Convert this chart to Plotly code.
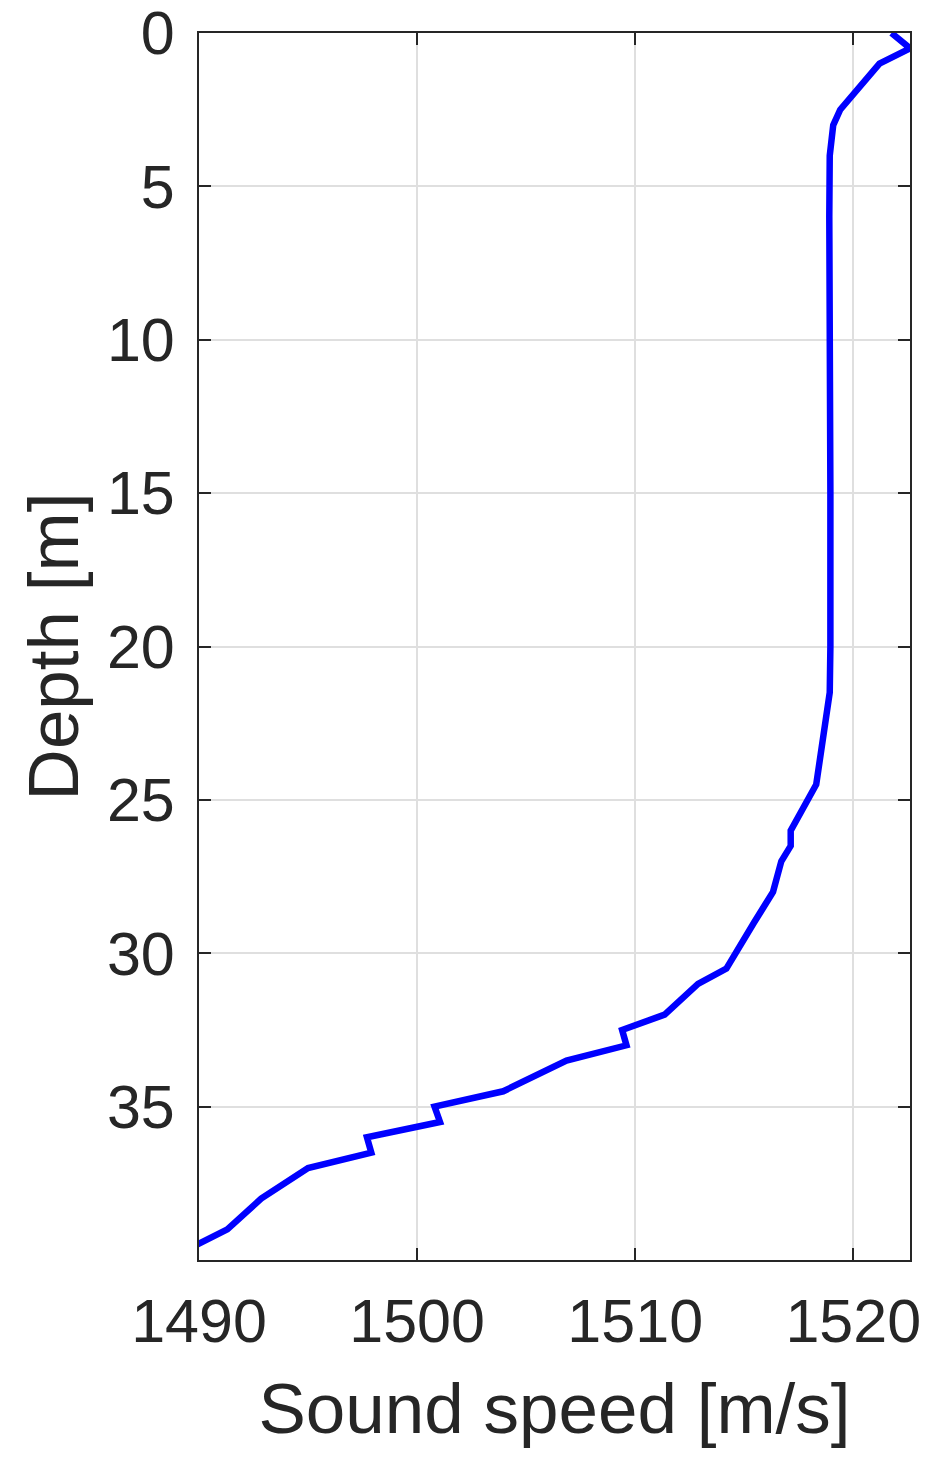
import plotly.graph_objects as go

# sound speed profile (depth in m, speed in m/s)
depth = [0, 0.5, 1, 2, 2.5, 3, 4, 6, 10, 15, 20, 21.5,
         24.5, 25.2, 25.6, 26, 26.5, 27, 28, 28.5, 29, 30.5, 31, 32,
         32.5, 33, 33.5, 34.5, 35, 35.5, 36, 36.5, 37, 38, 39, 39.5]
speed = [1521.75, 1522.6, 1521.2, 1520.05, 1519.4, 1519.08, 1518.92, 1518.9, 1518.95, 1518.95, 1518.95, 1518.92,
         1518.3, 1517.75, 1517.5, 1517.13, 1517.13, 1516.7, 1516.32, 1515.85, 1515.45, 1514.18, 1512.88, 1511.35,
         1509.4, 1509.6, 1506.85, 1503.95, 1500.8, 1501.05, 1497.7, 1497.9, 1495.0, 1492.85, 1491.3, 1489.9]

x_ticks = [1490, 1500, 1510, 1520]
y_ticks = [0, 5, 10, 15, 20, 25, 30, 35]

TEXT = "#262626"
GRID = "#dfdfdf"
FONT = "Liberation Sans, Arial, sans-serif"

fig = go.Figure()
fig.add_trace(go.Scatter(
    x=speed, y=depth, mode="lines",
    line=dict(color="#0000ff", width=6.5),
    showlegend=False,
))

axis_common = dict(
    showgrid=True, gridcolor=GRID, gridwidth=1.5,
    zeroline=False,
    showline=True, linecolor=TEXT, linewidth=2, mirror="allticks",
    ticks="inside", ticklen=12, tickwidth=2, tickcolor=TEXT,
    tickfont=dict(family=FONT, size=61, color=TEXT),
    ticklabeloverflow="allow",
)

fig.update_xaxes(
    range=[1490, 1522.6], tickvals=x_ticks,
    title=dict(text="Sound speed [m/s]", standoff=29,
               font=dict(family=FONT, size=71, color=TEXT)),
    ticklabelstandoff=7,
    **axis_common,
)
fig.update_yaxes(
    range=[40, 0], tickvals=y_ticks,
    title=dict(text="Depth [m]", standoff=5,
               font=dict(family=FONT, size=71, color=TEXT)),
    ticklabelstandoff=10,
    **axis_common,
)

# the page adds an 8px body margin, so the plot box is shifted to land where the reference has it
fig.update_layout(
    width=935, height=1469,
    margin=dict(l=191, r=33, t=25, b=217, autoexpand=False),
    paper_bgcolor="white", plot_bgcolor="white",
)

fig.write_html("out.html")
